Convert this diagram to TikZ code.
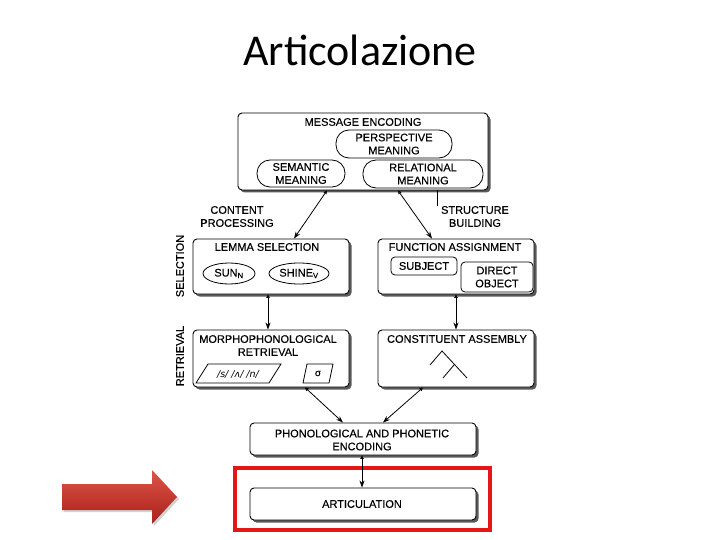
\documentclass[tikz,border=0pt]{standalone}
\usepackage{fontspec}
\setmainfont{Liberation Sans}[FakeBold=0.3]
\newfontfamily\titlefont{Carlito}
\newfontfamily\ipafont{DejaVu Sans}
\usetikzlibrary{shapes.geometric,arrows.meta,shadows}
\definecolor{BoxShadow}{RGB}{60,60,60}
\definecolor{FocusRed}{RGB}{228,22,22}
\definecolor{ArrowTop}{RGB}{222,84,72}
\definecolor{ArrowBot}{RGB}{168,32,26}

\begin{document}
\begin{tikzpicture}[x=1pt,y=-1pt,
  procblk/.style={draw,fill=white,rounded corners=4pt,line width=0.9pt,
                  drop shadow={shadow xshift=2.5pt,shadow yshift=-2.5pt,
                               fill=BoxShadow,opacity=0.85}},
  ttl/.style={font=\fontsize{11}{13}\selectfont,align=center,inner sep=1pt},
  pill/.style={draw,fill=white,rounded corners=13pt,line width=0.8pt,
               align=center,inner sep=0pt,font=\fontsize{11}{13}\selectfont},
  lemoval/.style={draw,ellipse,line width=0.8pt,inner sep=0pt,
                  font=\fontsize{11}{13}\selectfont},
  slot/.style={draw,rounded corners=4pt,line width=0.8pt,align=center,
               inner sep=0pt,font=\fontsize{11}{13}\selectfont},
  conn/.style={draw,line width=0.8pt,
               {Triangle[open,length=3.5pt,width=3.5pt]}-{Stealth[length=7pt,width=5pt]}},
]
\useasboundingbox (0,0) rectangle (720,540);
\fill[white] (0,0) rectangle (720,540);

\node[font=\titlefont\fontsize{44}{48}\selectfont] (title) at (360,50) {Articolazione};

\node[procblk,minimum width=250,minimum height=77] (me) at (363,151.5) {};
\node[ttl] (metitle) at (363,122) {MESSAGE ENCODING};
\node[pill,minimum width=116,minimum height=28] (persp) at (394,144) {PERSPECTIVE\\MEANING};
\node[pill,minimum width=88,minimum height=27] (semant) at (301,173.5) {SEMANTIC\\MEANING};
\node[pill,minimum width=120,minimum height=28] (relat) at (423,174) {RELATIONAL\\MEANING};

\node[ttl] (contproc) at (237,216.5) {CONTENT\\PROCESSING};
\node[ttl] (strbuild) at (475,216.5) {STRUCTURE\\BUILDING};
\coordinate (sbtick) at (437,206);
\draw[line width=0.6pt] (me.south -| sbtick) -- (sbtick);

\node[ttl,rotate=90] (sellbl) at (180,266) {SELECTION};
\node[ttl,rotate=90] (retrlbl) at (180,356) {RETRIEVAL};

\node[procblk,minimum width=156,minimum height=55] (lemma) at (271,266.5) {};
\node[ttl] (lemmattl) at (267,247) {LEMMA SELECTION};
\node[lemoval,minimum width=52,minimum height=21] (sun) at (229,273.5) {SUN\textsubscript{N}};
\node[lemoval,minimum width=60,minimum height=21] (shine) at (299,273.5) {SHINE\textsubscript{V}};

\node[procblk,minimum width=156,minimum height=55] (funcasg) at (456,266.5) {};
\node[ttl] (functtl) at (455,247) {FUNCTION ASSIGNMENT};
\node[slot,minimum width=66,minimum height=18] (subj) at (424,266) {SUBJECT};
\node[slot,minimum width=72,minimum height=30] (dobj) at (497,277) {DIRECT\\OBJECT};

\node[procblk,minimum width=156,minimum height=57] (morph) at (271,358.5) {};
\node[ttl] (morphttl) at (268,345.5) {MORPHOPHONOLOGICAL\\RETRIEVAL};
\draw[line width=0.8pt] (208,364) -- (281,364) -- (269,383) -- (196,383) -- cycle;
\node[font=\ipafont\itshape\fontsize{9.5}{10}\selectfont] (phonemes) at (238,374) {/s/ /ʌ/ /n/};
\draw[line width=0.8pt] (307,364) -- (333,364) -- (329,383) -- (303,383) -- cycle;
\node[font=\fontsize{10}{12}\selectfont] (syll) at (318,373.5) {σ};

\node[procblk,minimum width=156,minimum height=57] (constit) at (456,358.5) {};
\node[ttl] (constttl) at (457,339) {CONSTITUENT ASSEMBLY};
\draw[line width=0.8pt] (430,365) -- (442,351) -- (467,378);
\draw[line width=0.8pt] (454,365) -- (443,378);

\node[procblk,minimum width=226,minimum height=32] (phon) at (363,439) {};
\node[ttl] (phonttl) at (362,440) {PHONOLOGICAL AND PHONETIC\\ENCODING};

\node[draw=FocusRed,line width=3.5pt,minimum width=255,minimum height=62] (focus) at (362.5,499) {};
\node[procblk,minimum width=226,minimum height=32] (artic) at (363,504) {};
\node[ttl] (articttl) at (362,504) {ARTICULATION};

\draw[conn] ([xshift=-36pt]me.south) -- ([xshift=23pt]lemma.north);
\draw[conn] ([xshift=35pt]me.south) -- ([xshift=-24pt]funcasg.north);
\draw[conn] ([xshift=-3pt]lemma.south) -- ([xshift=-3pt]morph.north);
\draw[conn] (funcasg.south) -- (constit.north);
\draw[conn] ([xshift=34pt]morph.south) -- ([xshift=-20pt]phon.north);
\draw[conn] ([xshift=-33pt]constit.south) -- ([xshift=20pt]phon.north);
\draw[conn] ([xshift=-1pt]phon.south) -- ([xshift=-1pt]artic.north);

\path[top color=ArrowTop,bottom color=ArrowBot,
      drop shadow={shadow xshift=2pt,shadow yshift=-2pt,opacity=0.35}]
  (62,484) -- (152,484) -- (152,470) -- (177,497) -- (152,524) -- (152,510)
  -- (62,510) -- cycle;
\end{tikzpicture}
\end{document}
